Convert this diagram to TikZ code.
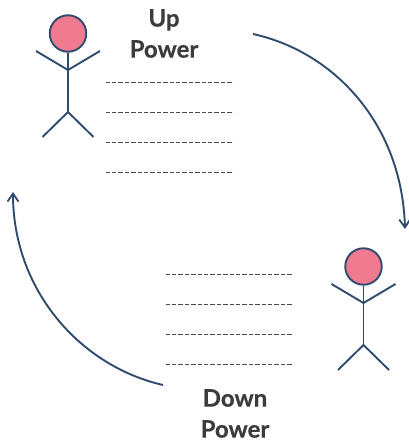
\documentclass[tikz,border=0pt]{standalone}
\usepackage{fontspec}
\setmainfont[BoldFeatures={FakeBold=0.5}]{Lato}
\usetikzlibrary{arrows.meta}
\definecolor{navy}{HTML}{2F4B6E}
\definecolor{pinkhead}{HTML}{F07A90}
\definecolor{ink}{HTML}{3C3C3C}
\definecolor{ruleink}{HTML}{4A4A4A}
\tikzset{
  x=1pt,y=-1pt,
  limb/.style={draw=navy,line width=1.9pt},
  headnode/.style={circle,draw=navy,fill=pinkhead,line width=1.9pt,minimum size=36.5pt,inner sep=0pt},
  rule/.style={draw=ruleink,line width=1pt,dash pattern=on 4.5pt off 1.9pt},
  title/.style={text=ink,font=\bfseries\fontsize{24}{31}\selectfont,align=center,inner sep=0pt},
  cycle/.style={draw=navy,line width=1.9pt,-{Straight Barb[length=8pt,width=11pt,line width=1.8pt]}},
}
\newcommand{\stick}[3]{%
  \node[headnode] (#3h) at (#1,#2) {};
  \coordinate (#3n) at (#1,#2+36.5);
  \coordinate (#3w) at (#1,#2+78.5);
  \coordinate (#3a) at (#1-32,#2+17.5);
  \coordinate (#3b) at (#1+32,#2+17.5);
  \coordinate (#3c) at (#1-25.5,#2+103.5);
  \coordinate (#3d) at (#1+25.5,#2+103.5);
  \draw[limb] (#3h) -- (#3n) -- (#3w);
  \draw[limb] (#3a) -- (#3n) -- (#3b);
  \draw[limb] (#3c) -- (#3w) -- (#3d);
}
\newcommand{\rules}[3]{%
  \foreach \k [evaluate=\k as \yy using #2+30*\k] in {0,1,2,3}{%
    \coordinate (#3l\k) at (#1,\yy);
    \coordinate (#3r\k) at (#1+128,\yy);
    \draw[rule] (#3l\k) -- (#3r\k);
  }%
}
\begin{document}
\begin{tikzpicture}
\useasboundingbox (0,0) rectangle (409,442);
\stick{68}{33.5}{p}
\stick{363.5}{266.5}{q}
\rules{105.5}{82}{u}
\rules{165.5}{274}{v}
\node[title] (up) at (164,33.5) {Up\\Power};
\node[title] (down) at (235,413.5) {Down\\Power};
\coordinate (a1) at (253,34);
\coordinate (a2) at (405,229);
\coordinate (b1) at (163,385);
\coordinate (b2) at (13,192);
\draw[cycle] (a1) .. controls (335,52) and (402,125) .. (a2);
\draw[cycle] (b1) .. controls (80,366) and (13,290) .. (b2);
\end{tikzpicture}
\end{document}
